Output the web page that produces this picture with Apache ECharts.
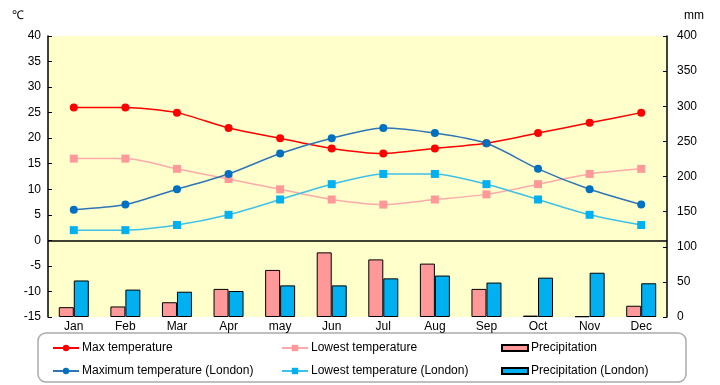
<!DOCTYPE html>
<html><head><meta charset="utf-8">
<script src="https://cdn.jsdelivr.net/npm/echarts@6/dist/echarts.min.js"></script>
<style>html,body{margin:0;padding:0;background:#fff}#c{width:720px;height:385px}</style>
</head><body><div id="c"></div>
<script>
const months = ['Jan','Feb','Mar','Apr','may','Jun','Jul','Aug','Sep','Oct','Nov','Dec'];
const maxTemp = [26,26,25,22,20,18,17,18,19,21,23,25];
const lowTemp = [16,16,14,12,10,8,7,8,9,11,13,14];
const maxTempLondon = [6,7,10,13,17,20,22,21,19,14,10,7];
const lowTempLondon = [2,2,3,5,8,11,13,13,11,8,5,3];
const precip = [14,15,21,40,67,92,82,76,40,2,1,16];
const precipLondon = [52,39,36,37,45,45,55,59,49,56,63,48];
const names = ['Max temperature','Lowest temperature','Precipitation','Maximum temperature (London)','Lowest temperature (London)','Precipitation (London)'];

const font = 'Liberation Sans';
const chart = echarts.init(document.getElementById('c'), null, {renderer:'canvas'});
const lineS = (name, data, color, lineColor, symbol) => ({
  name, type:'line', data, yAxisIndex:0, smooth:0.25, symbol, symbolSize:8,
  itemStyle:{color}, lineStyle:{color:lineColor, width:1.5}, z:5
});
const barS = (name, data, color) => ({
  name, type:'bar', data, yAxisIndex:1, barWidth:15, barGap:'0%',
  itemStyle:{color, borderColor:'#000', borderWidth:1}, z:3
});
const leg = (name, left, top, isBar) => ({
  data: isBar ? [{name, icon:'rect'}] : [name], left, top, itemWidth: 26, itemHeight: isBar ? 6 : 8,
  itemGap:0, selectedMode:false, padding:0,
  textStyle:{fontFamily:font, fontSize:12, color:'#000', padding:[0,0,0,-2]}
});
const series = [
  lineS(names[0], maxTemp, '#ff0000', '#ff0000', 'circle'),
  lineS(names[1], lowTemp, '#ff9999', '#ffaaaa', 'rect'),
  barS(names[2], precip, '#ff9999'),
  lineS(names[3], maxTempLondon, '#0070c0', '#2e75b6', 'circle'),
  lineS(names[4], lowTempLondon, '#00b0f0', '#3fc0e8', 'rect'),
  barS(names[5], precipLondon, '#00b0f0')
];
series[0].markLine = {silent:true, symbol:'none', label:{show:false},
  lineStyle:{color:'#000', width:1.5, type:'solid'}, data:[{yAxis:0}]};
chart.setOption({
  animation:false,
  textStyle:{fontFamily:font},
  grid:{left:48, right:53, top:36, bottom:68, show:true, backgroundColor:'#ffffcc', borderWidth:0},
  legend:[
    leg(names[0], 52, 342, false),
    leg(names[1], 281, 342, false),
    leg(names[2], 501, 342, true),
    leg(names[3], 52, 365, false),
    leg(names[4], 281, 365, false),
    leg(names[5], 501, 365, true)
  ],
  graphic:[
    {type:'rect', shape:{x:38, y:333, width:648, height:49, r:8}, style:{fill:'none', stroke:'#aaaaaa', lineWidth:1.5}, z:-1},
    {type:'text', left:12, top:10, style:{text:'℃', font:'12px '+font, fill:'#000'}},
    {type:'text', left:684, top:10, style:{text:'mm', font:'12px '+font, fill:'#000'}}
  ],
  xAxis:{type:'category', data:months, boundaryGap:true,
    axisLine:{show:false}, axisTick:{show:false},
    axisLabel:{color:'#000', fontSize:12, fontFamily:font, margin:4}},
  yAxis:[
    {type:'value', min:-15, max:40, interval:5, position:'left',
     axisLine:{show:true, lineStyle:{color:'#000', width:1.5}},
     axisTick:{show:true, inside:true, length:4, lineStyle:{color:'#000'}},
     splitLine:{show:false},
     axisLabel:{color:'#000', fontSize:12, fontFamily:font, margin:7}},
    {type:'value', min:0, max:400, interval:50, position:'right',
     axisLine:{show:true, lineStyle:{color:'#000', width:1.5}},
     axisTick:{show:true, inside:true, length:4, lineStyle:{color:'#000'}},
     splitLine:{show:false},
     axisLabel:{color:'#000', fontSize:12, fontFamily:font, margin:10}}
  ],
  series
});
</script></body></html>
